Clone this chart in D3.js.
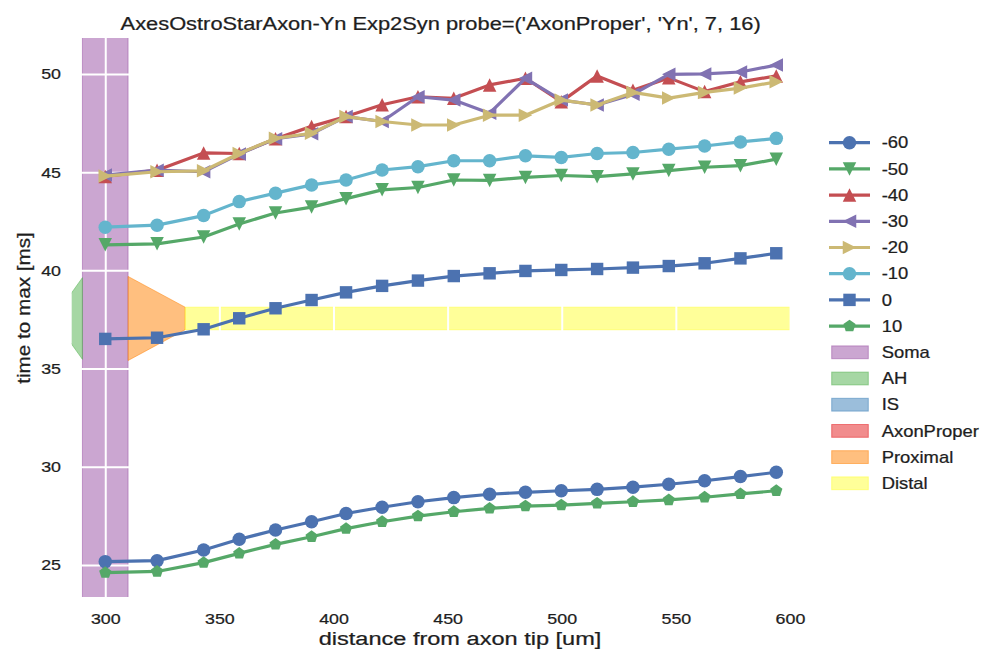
<!DOCTYPE html>
<html><head><meta charset="utf-8">
<script src="https://cdn.jsdelivr.net/npm/d3@7"></script>
<style>
body{margin:0;background:#fff}
svg{display:block}
text{font-family:"Liberation Sans",Arial,sans-serif;fill:#1e1e1e;stroke:#1e1e1e;stroke-width:0.25px}
</style>
</head><body>
<svg id="c" width="984" height="656"></svg>
<script>
// ---------------- data ----------------
const xPositions = [300, 322.7, 343.1, 358.7, 374.6, 390.4, 405.5, 421.3, 437.0, 452.7, 468.4, 484.1, 499.8, 515.5, 531.2, 546.9, 562.6, 578.3, 594.0];
const seriesNames = ['-60', '-50', '-40', '-30', '-20', '-10', '0', '10'];
const valsM60 = [25.17, 25.22, 25.76, 26.31, 26.78, 27.20, 27.62, 27.94, 28.22, 28.43, 28.60, 28.70, 28.78, 28.85, 28.96, 29.11, 29.29, 29.50, 29.72];
const valsM50 = [41.30, 41.35, 41.70, 42.36, 42.92, 43.22, 43.65, 44.10, 44.22, 44.60, 44.58, 44.73, 44.83, 44.77, 44.91, 45.08, 45.25, 45.33, 45.66];
const valsM40 = [44.78, 45.10, 45.98, 45.95, 46.70, 47.33, 47.83, 48.43, 48.84, 48.76, 49.44, 49.78, 48.59, 49.90, 49.17, 49.80, 49.10, 49.60, 49.90];
const valsM30 = [44.85, 45.10, 45.02, 45.92, 46.70, 46.95, 47.83, 47.58, 48.84, 48.67, 48.00, 49.78, 48.67, 48.42, 48.96, 49.98, 50.00, 50.10, 50.45];
const valsM20 = [44.80, 45.02, 45.07, 45.95, 46.72, 46.98, 47.83, 47.58, 47.40, 47.40, 47.90, 47.90, 48.67, 48.42, 49.06, 48.77, 49.06, 49.28, 49.60];
const valsM10 = [42.20, 42.30, 42.79, 43.50, 43.93, 44.35, 44.60, 45.11, 45.28, 45.58, 45.58, 45.83, 45.75, 45.95, 46.00, 46.17, 46.33, 46.54, 46.72];
const vals0   = [36.51, 36.57, 37.00, 37.56, 38.07, 38.49, 38.88, 39.21, 39.48, 39.71, 39.85, 39.97, 40.02, 40.07, 40.14, 40.22, 40.36, 40.61, 40.87];
const vals10  = [24.61, 24.67, 25.12, 25.59, 26.05, 26.44, 26.85, 27.20, 27.49, 27.71, 27.88, 28.00, 28.05, 28.14, 28.22, 28.31, 28.45, 28.62, 28.78];
const seriesValues = [valsM60, valsM50, valsM40, valsM30, valsM20, valsM10, vals0, vals10];

// morphology sections (x in um, diameters in plot units)
const sectionNames = ['Soma', 'AH', 'IS', 'AxonProper', 'Proximal', 'Distal'];
const sectionX0 = [290, 290, null, null, 310, 335];
const sectionX1 = [310, 280, null, null, 335, 600];
const sectionD0 = [60, 4.16, null, null, 4.28, 1.15];
const sectionD1 = [60, 0.9, null, null, 1.15, 1.15];
const sectionCenter = 37.55;

const xTicks = [300, 350, 400, 450, 500, 550, 600];
const yTicks = [25, 30, 35, 40, 45, 50];
const titleText = "AxesOstroStarAxon-Yn Exp2Syn probe=('AxonProper', 'Yn', 7, 16)";
const xLabelText = "distance from axon tip [um]";
const yLabelText = "time to max [ms]";

// ---------------- styles ----------------
const seriesColors = ['#4C72B0', '#55A868', '#C44E52', '#8172B2', '#CCB974', '#64B5CD', '#4C72B0', '#55A868'];
const seriesMarkers = ['circle', 'tridown', 'triup', 'trileft', 'triright', 'circle', 'square', 'pentagon'];
const sectionColors = ['#984ea3', '#4daf4a', '#377eb8', '#e41a1c', '#ff7f00', '#ffff33'];

const K = 1.15; // horizontal text stretch
const L = 71.7, R = 809.6, T = 38, B = 597;

const svg = d3.select('#c');
svg.append('rect').attr('width', 984).attr('height', 656).attr('fill', '#fff');

const x = d3.scaleLinear().domain([285.3, 608.6]).range([L, R]);
const y = d3.scaleLinear().domain([23.37, 51.83]).range([B, T]);

svg.append('clipPath').attr('id', 'clip').append('rect')
  .attr('x', L).attr('y', T).attr('width', R - L).attr('height', B - T);

// sections
const secG = svg.append('g').attr('clip-path', 'url(#clip)');
sectionNames.forEach((n, i) => {
  if (sectionX0[i] === null) return;
  const x0 = sectionX0[i], x1 = sectionX1[i], d0 = sectionD0[i] / 2, d1 = sectionD1[i] / 2;
  const pts = [[x0, sectionCenter + d0], [x1, sectionCenter + d1], [x1, sectionCenter - d1], [x0, sectionCenter - d0]];
  secG.append('path')
    .attr('d', d3.line().x(p => x(p[0])).y(p => y(p[1]))(pts) + 'Z')
    .attr('fill', sectionColors[i]).attr('fill-opacity', 0.5)
    .attr('stroke', sectionColors[i]).attr('stroke-opacity', 0.5).attr('stroke-width', 1);
});

// grid
svg.append('g').attr('transform', `translate(0,${B})`)
  .call(d3.axisBottom(x).tickValues(xTicks).tickSize(-(B - T)).tickFormat(''))
  .call(g => g.select('.domain').remove())
  .selectAll('line').attr('stroke', '#fff').attr('stroke-width', 2);
svg.append('g').attr('transform', `translate(${L},0)`)
  .call(d3.axisLeft(y).tickValues(yTicks).tickSize(-(R - L)).tickFormat(''))
  .call(g => g.select('.domain').remove())
  .selectAll('line').attr('stroke', '#fff').attr('stroke-width', 2);

// tick labels
const xa = svg.append('g').attr('transform', `translate(0,${B})`)
  .call(d3.axisBottom(x).tickValues(xTicks).tickSize(0).tickPadding(16).tickFormat(d3.format('d')));
xa.select('.domain').remove();
xa.selectAll('text').attr('font-size', 15.5).attr('font-family', null)
  .attr('fill', null).attr('transform', `scale(${K},1)`);
const ya = svg.append('g').attr('transform', `translate(${L},0)`)
  .call(d3.axisLeft(y).tickValues(yTicks).tickSize(0).tickPadding(9.3).tickFormat(d3.format('d')));
ya.select('.domain').remove();
ya.selectAll('text').attr('font-size', 15.5).attr('font-family', null)
  .attr('fill', null).attr('transform', `scale(${K},1)`);
xa.attr('font-family', null); ya.attr('font-family', null);

// markers
function markerPath(type, s) {
  const h = s / 2;
  switch (type) {
    case 'circle': return d3.symbol(d3.symbolCircle, Math.PI * h * h)();
    case 'square': { const q = s * 0.46; return `M${-q},${-q}H${q}V${q}H${-q}Z`; }
    case 'triup': return `M0,${-h}L${h},${h}L${-h},${h}Z`;
    case 'tridown': return `M0,${h}L${h},${-h}L${-h},${-h}Z`;
    case 'trileft': return `M${-h},0L${h},${-h}L${h},${h}Z`;
    case 'triright': return `M${h},0L${-h},${-h}L${-h},${h}Z`;
    case 'pentagon': {
      const r = h * 0.95; const p = [];
      for (let k = 0; k < 5; k++) { const a = -Math.PI / 2 + k * 2 * Math.PI / 5; p.push([r * Math.cos(a), r * Math.sin(a)]); }
      return 'M' + p.map(q => q.join(',')).join('L') + 'Z';
    }
  }
}
const MS = 13.5;

const lineGen = d3.line().x((d, i) => x(xPositions[i])).y(d => y(d));
seriesValues.forEach((vals, si) => {
  const g = svg.append('g');
  g.append('path').attr('d', lineGen(vals)).attr('fill', 'none')
    .attr('stroke', seriesColors[si]).attr('stroke-width', 3.2).attr('stroke-linejoin', 'round');
  g.selectAll('path.m').data(vals).enter().append('path').attr('class', 'm')
    .attr('transform', (d, i) => `translate(${x(xPositions[i])},${y(d)})`)
    .attr('d', markerPath(seriesMarkers[si], MS)).attr('fill', seriesColors[si]);
});

// title & labels
function txt(str, tx, ty, size, anchor, rot, k) {
  svg.append('text').attr('transform', `translate(${tx},${ty}) rotate(${rot || 0}) scale(${k || K},1)`)
    .attr('font-size', size).attr('text-anchor', anchor).text(str);
}
txt(titleText, (L + R) / 2, 29.5, 19, 'middle');
txt(xLabelText, 460, 645, 19, 'middle', 0, 1.24);
txt(yLabelText, 30, 308, 18, 'middle', -90);

// legend
const legY0 = 142.7, legDY = 26.2;
const leg = svg.append('g');
seriesNames.forEach((n, i) => {
  const yy = legY0 + i * legDY;
  leg.append('line').attr('x1', 829).attr('x2', 870).attr('y1', yy).attr('y2', yy)
    .attr('stroke', seriesColors[i]).attr('stroke-width', 3.2);
  leg.append('path').attr('transform', `translate(849.5,${yy})`).attr('d', markerPath(seriesMarkers[i], MS)).attr('fill', seriesColors[i]);
  leg.append('text').attr('transform', `translate(881.7,${yy}) scale(${K},1)`).attr('dy', '0.36em').attr('font-size', 16).text(n);
});
sectionNames.forEach((n, j) => {
  const yy = legY0 + (seriesNames.length + j) * legDY;
  leg.append('rect').attr('x', 831.7).attr('y', yy - 6.4).attr('width', 36.6).attr('height', 12.8)
    .attr('fill', sectionColors[j]).attr('fill-opacity', 0.5)
    .attr('stroke', sectionColors[j]).attr('stroke-opacity', 0.5).attr('stroke-width', 1);
  leg.append('text').attr('transform', `translate(881.7,${yy}) scale(${K},1)`).attr('dy', '0.36em').attr('font-size', 16).text(n);
});
</script>
</body></html>
